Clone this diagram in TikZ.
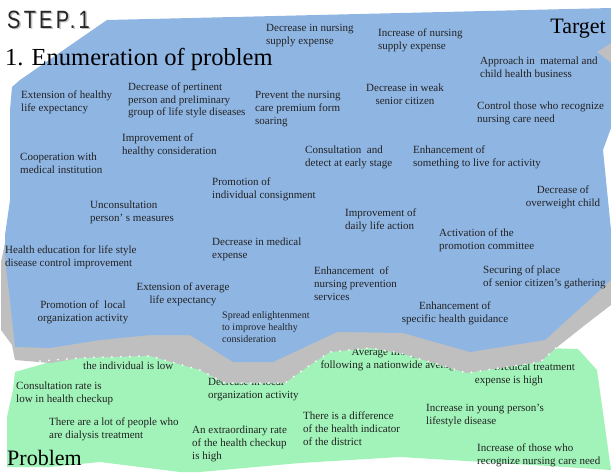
\documentclass[tikz,border=0pt]{standalone}
\usepackage{fontspec}
\setmainfont{Liberation Serif}
\newfontfamily\stepfont[FakeStretch=0.8,LetterSpace=13]{Liberation Sans}
\definecolor{blueA}{RGB}{143,181,227}
\definecolor{grayA}{RGB}{191,191,191}
\definecolor{greenA}{RGB}{161,243,185}
\definecolor{inkA}{RGB}{34,34,34}
\begin{document}
\begin{tikzpicture}[x=1pt,y=-1pt,
  txt/.style={inner sep=0pt, font=\fontsize{11}{13}\selectfont, align=left, text=inkA, anchor=north west},
  ctxt/.style={txt, align=center, anchor=north},
  small/.style={txt, font=\fontsize{10}{12}\selectfont},
  big/.style={inner sep=0pt, font=\fontsize{22}{26}\selectfont, text=black}]
\useasboundingbox (0,0) rectangle (611,472);
% green region
\fill[greenA] (15,372) -- (50,362) -- (100,352) -- (150,350) -- (200,358) -- (233,368) -- (280,368) -- (310,352) -- (330,342) -- (370,340) -- (400,345) -- (450,360) -- (500,362) -- (545,348) -- (578,349) -- (597,370) -- (611,470) -- (500,463) -- (400,457) -- (300,463) -- (200,472) -- (180,472) -- (100,462) -- (50,467) -- (7,467) -- (7,417) -- (13,390) -- cycle;
% green texts
\node[txt] (g1) at (83,362) {the individual is low};
\node[txt] (g2) at (16,382) {Consultation rate is\\low in health checkup};
\node[txt] (g3) at (208,378) {Decrease in local\\organization activity};
\node[txt] (g4) at (49,418) {There are a lot of people who\\are dialysis treatment};
\node[txt] (g5) at (192,426) {An extraordinary rate\\of the health checkup\\is high};
\node[txt] (g6) at (303,412) {There is a difference\\of the health indicator\\of the district};
\node[ctxt] (g7) at (390,348) {Average life span\\following a nationwide average};
\node[txt, align=right, anchor=north east] (g8) at (575,363) {Medical treatment\\expense is high\hspace*{32pt}};
\node[txt] (g9) at (426,404) {Increase in young person's\\lifestyle disease};
\node[txt] (g10) at (477,444) {Increase of those who\\recognize nursing care need};
\node[big, anchor=base west] (problem) at (7,465) {Problem};
% gray shadow
\fill[grayA] (105,26) -- (611,20) -- (611,112) -- (597,135) -- (600,150) -- (605,200) -- (611,240) -- (611,305) -- (585,325) -- (556,348) -- (540,362) -- (500,368) -- (467,373) -- (450,368) -- (400,353) -- (370,348) -- (330,352) -- (310,365) -- (285,383) -- (225,383) -- (200,370) -- (150,356) -- (80,358) -- (50,363) -- (15,360) -- (12,345) -- (1,330) -- (1,262) -- (6,238) -- (14,200) -- (16,95) -- cycle;
\draw[white, line width=2pt, line cap=round, dash pattern=on 0pt off 9pt] (40,361) -- (80,358) -- (150,356) -- (200,370) -- (225,383) -- (285,383) -- (310,365) -- (330,352) -- (370,348) -- (400,353) -- (450,368) -- (467,373) -- (500,368) -- (540,362) -- (556,348);
% blue region
\fill[blueA] (107,20) -- (611,8) -- (611,43) -- (597,52) -- (611,63) -- (611,128) -- (603,150) -- (611,230) -- (611,280) -- (545,340) -- (470,352) -- (403,333) -- (337,332) -- (273,362) -- (233,362) -- (190,335) -- (150,335) -- (100,340) -- (50,348) -- (15,347) -- (10,300) -- (5,260) -- (5,235) -- (10,200) -- (10,110) -- (12,87) -- (20,80) -- cycle;
% blue texts
\node[txt] (n1) at (266,24) {Decrease in nursing\\supply expense};
\node[txt] (n2) at (378,29) {Increase of nursing\\supply expense};
\node[txt] (n3) at (480,57) {Approach in\ \ maternal and\\child health business};
\node[txt] (n4) at (21,91) {Extension of healthy\\life expectancy};
\node[txt, font=\fontsize{11}{12.5}\selectfont] (n5) at (128,83) {Decrease of pertinent\\person and preliminary\\group of life style diseases};
\node[txt] (n6) at (255,91) {Prevent the nursing\\care premium form\\soaring};
\node[ctxt] (n7) at (405,84) {Decrease in weak\\senior citizen};
\node[txt] (n8) at (477,102) {Control those who recognize\\nursing care need};
\node[txt] (n9) at (122,134) {Improvement of\\healthy consideration};
\node[txt] (n10) at (20,153) {Cooperation with\\medical institution};
\node[txt] (n11) at (305,146) {Consultation\ \ and\\detect at early stage};
\node[txt] (n12) at (413,146) {Enhancement of\\something to live for activity};
\node[txt] (n13) at (212,178) {Promotion of\\individual consignment};
\node[ctxt] (n14) at (563,186) {Decrease of\\overweight child};
\node[txt] (n15) at (90,201) {Unconsultation\\person’ s measures};
\node[txt] (n16) at (345,209) {Improvement of\\daily life action};
\node[txt] (n17) at (5,246) {Health education for life style\\disease control improvement};
\node[txt] (n18) at (212,238) {Decrease in medical\\expense};
\node[txt] (n19) at (439,229) {Activation of the\\promotion committee};
\node[txt] (n20) at (314,267) {Enhancement\ \ of\\nursing prevention\\services};
\node[txt] (n21) at (483,266) {Securing of place\\of senior citizen's gathering};
\node[ctxt] (n22) at (183,283) {Extension of average\\life expectancy};
\node[ctxt] (n23) at (83,301) {Promotion of\ \ local\\organization activity};
\node[small] (n24) at (222,311) {Spread enlightenment\\to improve healthy\\consideration};
\node[ctxt] (n25) at (455,302) {Enhancement of\\specific health guidance};
% titles
\node[big, anchor=base east] (target) at (606,33) {Target};
\node[big, font=\fontsize{24.5}{28}\selectfont, anchor=base west] (title) at (5,65) {1. Enumeration of problem};
\node[inner sep=0pt, anchor=base west, font=\stepfont\fontsize{25}{28}\selectfont, text=black!35, opacity=0.7] (stepshadow) at (8.5,29.5) {STEP.1};
\node[inner sep=0pt, anchor=base west, font=\stepfont\fontsize{25}{28}\selectfont, text=black!85] (step1) at (7,28) {STEP.1};
\end{tikzpicture}
\end{document}
